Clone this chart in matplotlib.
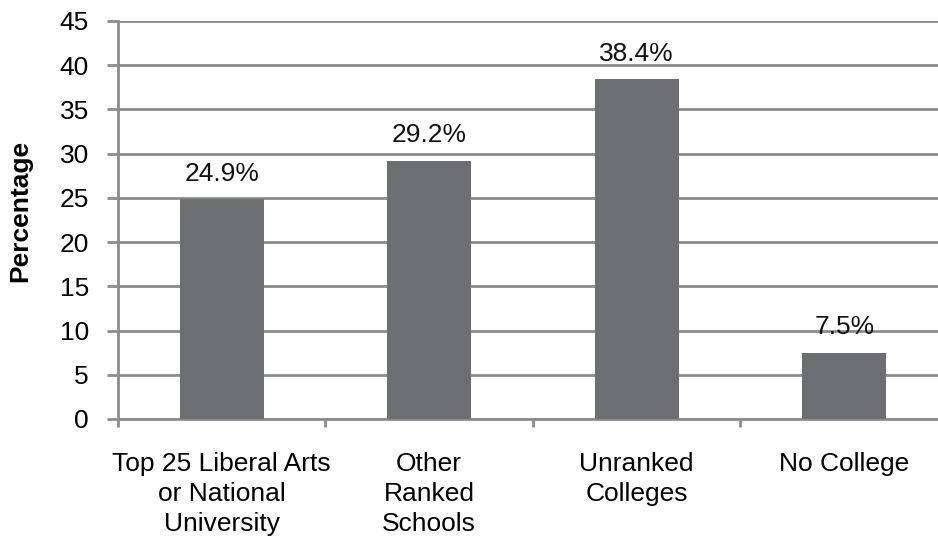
import numpy as np
import matplotlib
matplotlib.use("Agg")
import matplotlib.pyplot as plt

categories = ["Top 25 Liberal Arts\nor National\nUniversity", "Other\nRanked\nSchools",
              "Unranked\nColleges", "No College"]
values = [24.9, 29.2, 38.4, 7.5]
labels = ["24.9%", "29.2%", "38.4%", "7.5%"]

plt.rcParams["font.family"] = ["Liberation Sans", "DejaVu Sans"]
grey = "#8c8c8c"
fs = 19

fig = plt.figure(figsize=(9.38, 5.37), dpi=100)
ax = fig.add_axes([118 / 938, 1 - 419 / 537, 1 - 118 / 938, 398 / 537])

x = np.arange(len(values))
ax.bar(x, values, width=0.405, color="#6d6e71", zorder=3)
for xi, v, lab in zip(x, values, labels):
    ax.text(xi, v + 1.5, lab, ha="center", va="bottom", fontsize=fs, color="#111111")

ax.set_xlim(-0.5, 3.452)
ax.set_ylim(0, 45)
ax.set_yticks(np.arange(0, 46, 5))
ax.yaxis.grid(True, color=grey, linewidth=2, zorder=0)
ax.tick_params(axis="y", length=8, width=2, color=grey, labelsize=fs, pad=13)

# category boundary ticks
ax.set_xticks(np.arange(-0.5, 3.5, 1.0))
ax.set_xticklabels([])
ax.tick_params(axis="x", which="major", length=5.5, width=2, color=grey)
ax.set_xticks(x, minor=True)
ax.set_xticklabels(categories, minor=True, fontsize=fs, linespacing=1.3)
ax.tick_params(axis="x", which="minor", length=0, pad=24)

for s in ["top", "right"]:
    ax.spines[s].set_visible(False)
for s in ["left", "bottom"]:
    ax.spines[s].set_color(grey)
    ax.spines[s].set_linewidth(2)

ax.set_ylabel("Percentage", fontsize=fs, fontweight="bold")
ax.yaxis.set_label_coords(-0.104, 0.523)

fig.savefig("out.png", dpi=100)
